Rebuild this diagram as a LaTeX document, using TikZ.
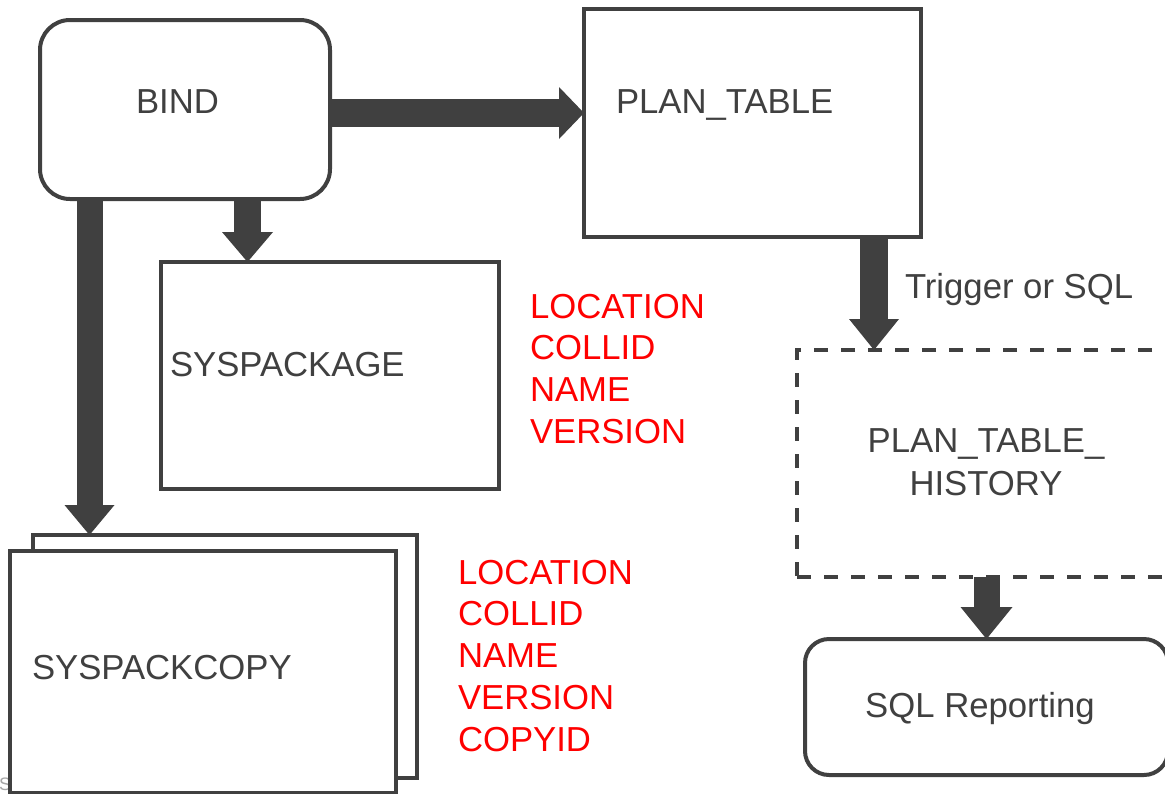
\documentclass[tikz,border=0pt]{standalone}
\usepackage{fontspec}
\setmainfont{Liberation Sans}
\usetikzlibrary{arrows.meta,calc}
\definecolor{dg}{HTML}{404040}
\definecolor{lblred}{HTML}{FF0000}
\begin{document}
\begin{tikzpicture}[x=1pt,y=-1pt,
  box/.style={draw=dg,line width=4pt,fill=white,inner sep=0pt,outer sep=0pt},
  txt/.style={inner sep=0pt,outer sep=0pt,text=dg,font=\fontsize{34.7}{41.7}\selectfont},
  redtxt/.style={txt,text=lblred,anchor=base west},
  fat/.style={draw=dg,line width=#1}
]
\useasboundingbox (0,0) rectangle (1165,793);
\clip (0,0) rectangle (1165,793);
\fill[white] (0,0) rectangle (1165,793);

% faint cut-off footer text
\node[inner sep=0pt,anchor=base west,text=gray!70,font=\fontsize{18}{20}\selectfont] (foot) at (-1,790) {Sc};

% boxes
\node[box,rounded corners=30pt,minimum width=290pt,minimum height=179pt] (bind) at (185,109.5) {};
\node[box,minimum width=337pt,minimum height=228pt] (plan) at (752.5,123) {};
\node[box,minimum width=338pt,minimum height=227pt] (pkg) at (330,375.5) {};
\node[box,minimum width=384pt,minimum height=243pt] (copyback) at (225,656.5) {};
\node[box,minimum width=386pt,minimum height=242pt] (copyfront) at (203,672) {};
\node[box,dash pattern=on 14pt off 13pt,minimum width=388pt,minimum height=227pt] (hist) at (991,463.5) {};
\node[box,rounded corners=24pt,minimum width=363pt,minimum height=136pt] (sqlr) at (986.5,707) {};

% anchor coordinates for connectors
\coordinate (a2) at (247.5,262);
\coordinate (a3) at (89.5,535);
\coordinate (a4) at (874,350);

% connectors
\draw[fat=28pt,-{Triangle[width=52pt,length=25pt,line width=0pt]}]
  ([yshift=-3.5pt]bind.east) -- ([yshift=-3.5pt]bind.east -| plan.west);
\draw[fat=27pt,-{Triangle[width=51pt,length=30pt,line width=0pt]}]
  (a2 |- bind.south) -- (a2);
\draw[fat=26pt,-{Triangle[width=50pt,length=30pt,line width=0pt]}]
  (a3 |- bind.south) -- (a3);
\draw[fat=28pt,-{Triangle[width=50pt,length=31pt,line width=0pt]}]
  (a4 |- plan.south) -- (a4);
\draw[fat=26pt,-{Triangle[width=52pt,length=32pt,line width=0pt]}]
  (hist.south -| sqlr.north) -- (sqlr.north);

% texts
\node[txt,anchor=base] (tbind) at (177.5,113) {BIND};
\node[txt,anchor=base west] (tplan) at (616,113) {PLAN\_TABLE};
\node[txt,anchor=base west] (tpkg) at (170,376) {SYSPACKAGE};
\node[txt,anchor=base west] (tcopy) at (32,679) {SYSPACKCOPY};
\node[txt,anchor=base west] (ttrig) at (905,298) {Trigger or SQL};
\node[txt,anchor=base] (thist1) at (986,452) {PLAN\_TABLE\_};
\node[txt,anchor=base] (thist2) at (986,495) {HISTORY};
\node[txt,anchor=base] (tsql) at (980,717) {SQL Reporting};

\foreach \w [count=\i from 0] in {LOCATION,COLLID,NAME,VERSION}
  \node[redtxt] (ra\i) at (530,318+41.7*\i) {\w};
\foreach \w [count=\i from 0] in {LOCATION,COLLID,NAME,VERSION,COPYID}
  \node[redtxt] (rb\i) at (458,584+41.75*\i) {\w};
\end{tikzpicture}
\end{document}
